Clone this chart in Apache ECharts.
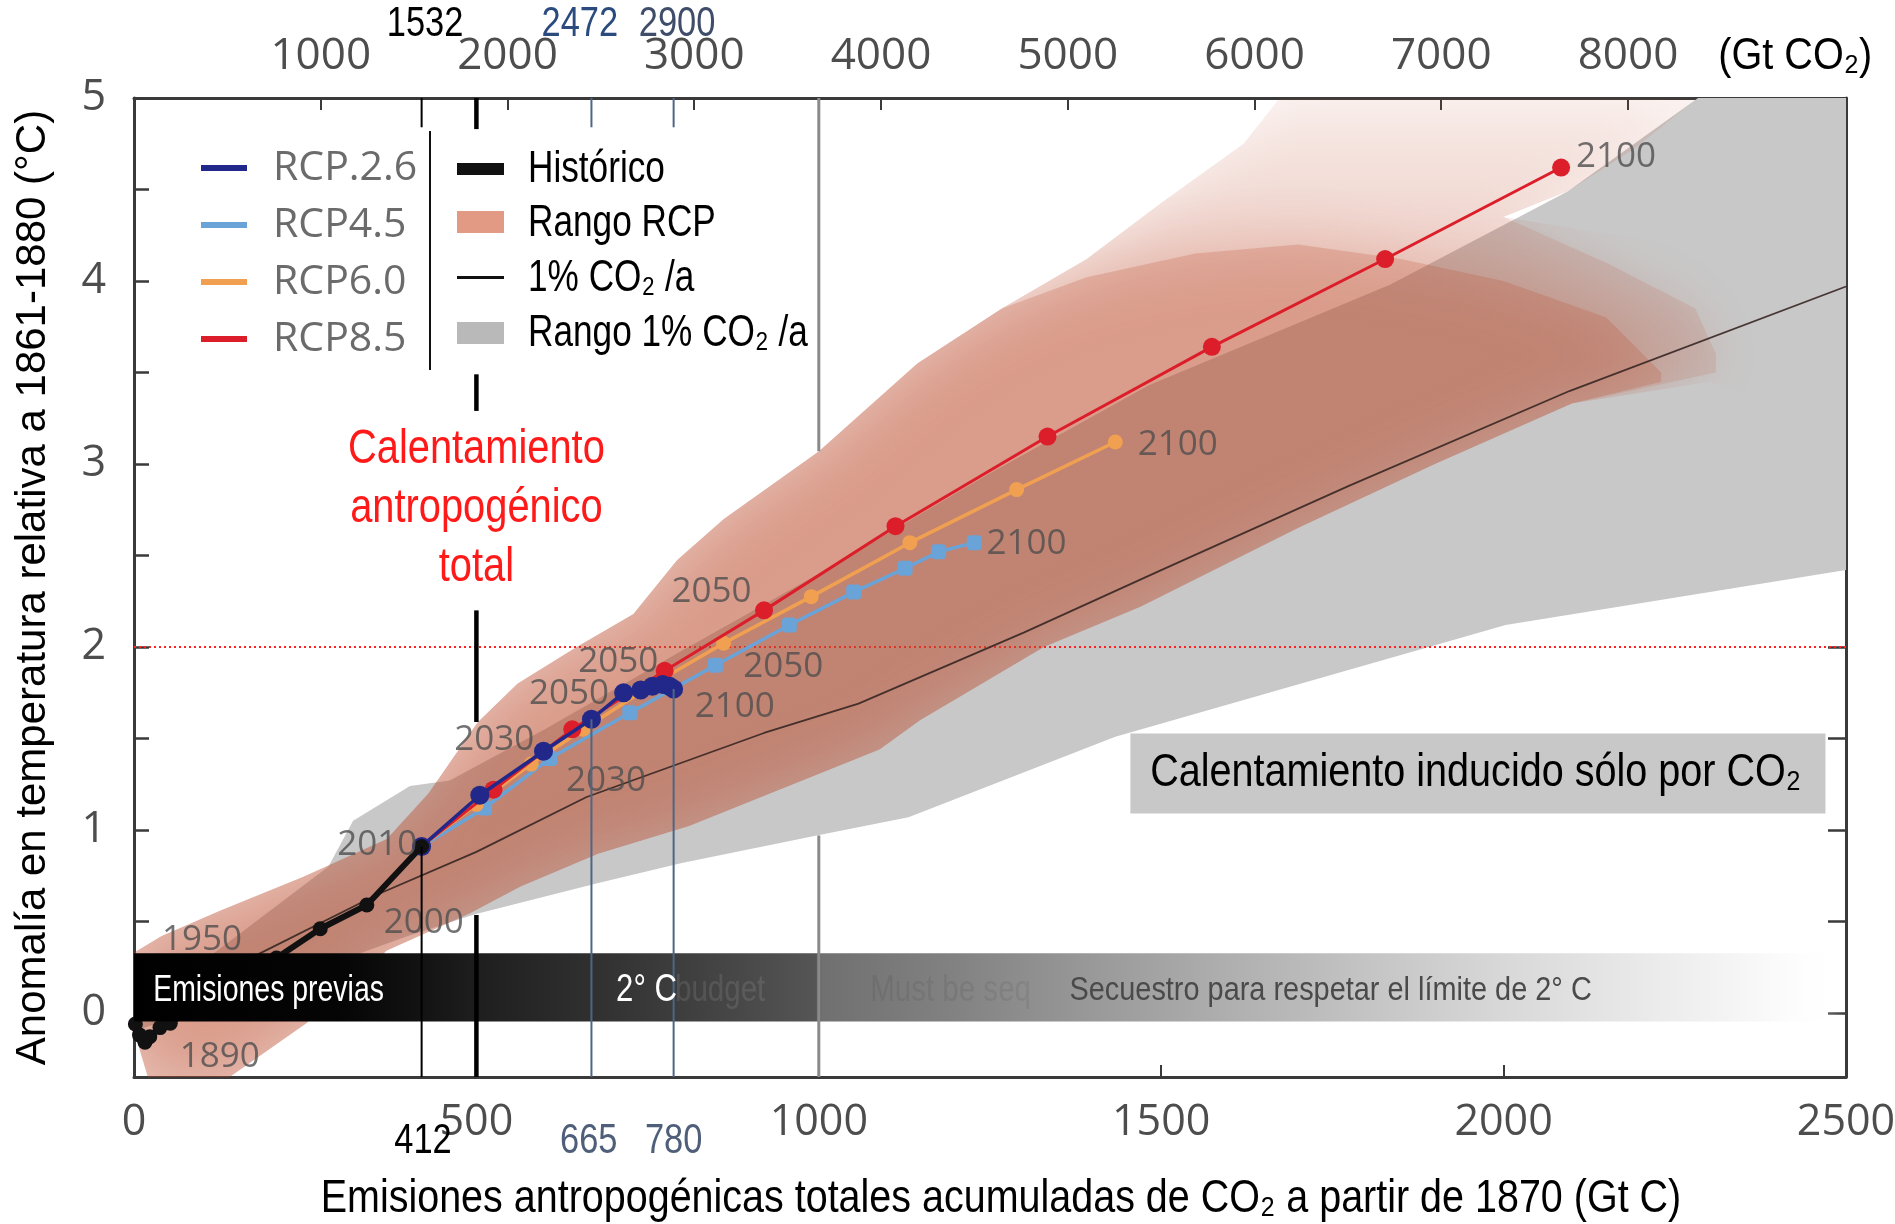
<!DOCTYPE html>
<html><head><meta charset="utf-8">
<script src="https://cdn.jsdelivr.net/npm/echarts@6/dist/echarts.min.js"></script>
<style>html,body{margin:0;padding:0;background:#fff}#chart{width:1895px;height:1224px}</style>
</head><body><div id="chart"></div>
<script>
// ---------------- DATA ----------------
// cumulative emissions (Gt C) , temperature anomaly (°C)
const historico = [[2,-0.06],[8,-0.12],[16,-0.16],[23,-0.13],[38,-0.08],[53,-0.056],[75,0.0],[100,0.08],[130,0.15],[165,0.22],[208,0.30],[272,0.46],[340,0.59],[420,0.91]];
const rcp26 = [[420,0.91],[505,1.19],[598,1.43],[668,1.605],[715,1.75],[740,1.765],[757,1.785],[772,1.795],[782,1.785],[788,1.77]];
const rcp45 = [[420,0.91],[512,1.12],[607,1.39],[724,1.64],[849,1.90],[957,2.12],[1051,2.30],[1126,2.43],[1175,2.52],[1227,2.57]];
const rcp60 = [[420,0.91],[500,1.14],[580,1.36],[656,1.55],[760,1.80],[861,2.02],[989,2.275],[1133,2.57],[1289,2.86],[1433,3.12]];
const rcp85 = [[420,0.91],[525,1.22],[640,1.55],[775,1.87],[920,2.20],[1112,2.66],[1334,3.15],[1574,3.64],[1827,4.12],[2084,4.62]];
const co2Line = [[0,0.0],[165,0.29],[357,0.65],[500,0.88],[661,1.18],[920,1.53],[1058,1.69],[1300,2.08],[1500,2.42],[1774,2.88],[2097,3.40],[2500,3.97]];

// RCP range: shared left part of the edges, a pale outer envelope and a denser core where plumes overlap
const rcpUpperLeft = [[0,-0.1],[0,0.33],[40,0.42],[126,0.56],[247,0.745],[369,0.95],[430,1.2],[502,1.59],[560,1.8],[646,2.0],[729,2.18],[793,2.475],[861,2.70],[1000,3.07]];
const rcpLowerLeft = [[20,-0.35],[140,-0.35],[252,-0.056],[369,0.34],[491,0.545],[564,0.69],[678,0.87],[810,1.02],[1089,1.44],[1148,1.60],[1329,2.0],[1470,2.22],[1700,2.65],[1900,3.0],[2100,3.33]];
const rcpOuterUpperRight = [[1144,3.55],[1267,3.85],[1391,4.12],[1497,4.42],[1620,4.75],[1673,5.0],[2284,5.0],[2190,4.72],[2094,4.49],[2000,4.35],[2150,4.1],[2280,3.85],[2310,3.6]];
const rcpOuterLowerEnd = [[2310,3.5]];
const rcpCoreUpperRight = [[1144,3.55],[1267,3.85],[1391,4.02],[1550,4.15],[1700,4.2],[1850,4.12],[2000,4.0],[2150,3.8],[2230,3.5]];
const rcpCoreLowerEnd = [[2230,3.45]];
// envelope used to keep the soft edges inside the plume (open only towards the faded right end)
const rcpClipUpperRight = [[1144,3.55],[1267,3.85],[1391,4.12],[1497,4.42],[1620,4.75],[1673,5.0],[2284,5.0],[2190,4.72],[2094,4.49],[2000,4.35],[2250,4.2],[2480,3.9],[2480,3.2]];
const rcpClipLowerEnd = [[2300,3.45],[2480,3.2]];

const grayUpper = [[0,0.0],[150,0.42],[284,0.80],[320,1.05],[403,1.24],[461,1.27],[600,1.55],[800,1.98],[1000,2.4],[1250,2.95],[1482,3.43],[1834,3.98],[2094,4.49],[2284,5.0],[2500,5.0]];
const grayLower = [[0,-0.1],[200,0.15],[400,0.42],[498,0.54],[678,0.71],[800,0.82],[997,0.97],[1131,1.07],[1433,1.51],[2003,2.12],[2500,2.42]];
const limit2C = [[0,2],[2500,2]];
const previasBand = [[0,0.326],[2500,-0.047]];
const co2OnlyBox = [[1455,1.527],[2470,1.09]];

const xTicks = [0,500,1000,1500,2000,2500];
const yTicks = [0,1,2,3,4,5];
const yMinorTicks = [0,0.5,1,1.5,2,2.5,3,3.5,4,4.5,5];
const topTicks = [1000,2000,3000,4000,5000,6000,7000,8000];
const topTickMarks = [1000,2000,3000,4000,5000,6000,7000,8000,9000];
const GTC_TO_GTCO2 = 3.667;

// reference lines (x in Gt C) and their visible spans (°C)
const refX = [420, 500, 668, 788, 1000];
const refSpans = [
  [[5,4.84],[0.91,-0.35]],
  [[5,4.83],[3.49,3.29],[2.20,1.59],[0.535,-0.35]],
  [[5,4.84],[1.605,-0.35]],
  [[5,4.84],[1.77,-0.35]],
  [[5,3.07],[0.97,-0.35]]
];
const topRefLabelX = [425, 651, 793];
const bottomRefLabelX = [422, 664, 788];
const topRefLabels = ['1532','2472','2900'];
const bottomRefLabels = ['412','665','780'];

// year labels: anchor (left edge, middle) in data coords
const yearLabelAnchors = [[2105,4.68],[1465,3.106],[1244,2.564],[818,1.67],[784,2.30],[648,1.92],[576,1.745],[889,1.89],[467,1.49],[630,1.27],[296,0.92],[364,0.49],[40,0.40],[66,-0.24]];
const yearLabelTexts = ['2100','2100','2100','2100','2050','2050','2050','2050','2030','2030','2010','2000','1950','1890'];

// annotation anchors (data coords) and texts
const annoAnchors = [[500,2.754],[28,0.12],[704,0.12],[790,0.12],[1075,0.12],[1366,0.12],[1484,1.309]];
const annoTexts = ['Calentamiento\nantropogénico\ntotal','Emisiones previas','2° C','budget','Must be seq','Secuestro para respetar el límite de 2° C','Calentamiento inducido sólo por CO₂'];
const legendRightTexts = ['Histórico','Rango RCP','1% CO₂ /a','Rango 1% CO₂ /a'];
const xTitle = 'Emisiones antropogénicas totales acumuladas de CO₂ a partir de 1870 (Gt C)';
const yTitle = 'Anomalía en temperatura relativa a 1861-1880 (°C)';
const co2Unit = '(Gt CO₂)';

// ---------------- STYLE ----------------
const SANS = '"Open Sans", "Noto Sans", sans-serif';
const ARIAL = '"Liberation Sans", Arial, sans-serif';
const AX = '#3a3a3a';
const TICKTXT = '#4d4d4d';
const RCP_RGB = '190,75,45';

const refStyles = [
  {stroke:'#000', lineWidth:2},
  {stroke:'#000', lineWidth:4.5},
  {stroke:'#4e6585', lineWidth:2},
  {stroke:'#4e6585', lineWidth:2},
  {stroke:'#8a8a8a', lineWidth:3}
];
// narrow look: Liberation Sans compressed horizontally
const annoStyles = [
  {fs:48, sx:0.83, fill:'#ff1a1a', align:'center', lh:59},
  {fs:36, sx:0.79, fill:'#fff'},
  {fs:38, sx:0.82, fill:'#fff'},
  {fs:36, sx:0.82, fill:'rgba(255,255,255,0.10)'},
  {fs:36, sx:0.82, fill:'rgba(0,0,0,0.07)'},
  {fs:34, sx:0.85, fill:'#4a4a4a'},
  {fs:46, sx:0.86, fill:'#000'}
];

function ring(api, upper, lower) {
  return upper.map(p => api.coord(p)).concat(lower.slice().reverse().map(p => api.coord(p)));
}
function bandSeries(name, upper, lower, fill, z) {
  return {type:'custom', name, z, clip:true, silent:true, data:[[0,0]],
    renderItem:(params, api) => ({type:'polygon', shape:{points:ring(api, upper, lower)}, style:{fill:fill}, silent:true})};
}
// layer with soft edges, clipped to the plume envelope
function softBandSeries(name, clipUpper, clipLower, upper, lower, fill, blur, z) {
  return {type:'custom', name, z, clip:true, silent:true, data:[[0,0]],
    renderItem:(params, api) => ({
      type:'group', silent:true,
      clipPath:{type:'polygon', shape:{points:ring(api, clipUpper, clipLower)}},
      children:[{type:'polygon', shape:{points:ring(api, upper, lower)},
        style:{fill:fill, shadowBlur:blur, shadowColor:'rgba(' + RCP_RGB + ',1)'}}]
    })};
}

const barFill = new echarts.graphic.LinearGradient(0, 0, 1, 0, [
  {offset:0, color:'#000'},{offset:0.12, color:'#050505'},{offset:0.16, color:'#101010'},
  {offset:0.2, color:'#1e1e1e'},{offset:0.26, color:'#2e2e2e'},{offset:0.32, color:'#3e3e3e'},
  {offset:0.398, color:'#555'},{offset:0.402, color:'#707070'},{offset:0.48, color:'#828282'},
  {offset:0.56, color:'#999'},{offset:0.64, color:'#afafaf'},{offset:0.72, color:'#c4c4c4'},
  {offset:0.80, color:'#d8d8d8'},{offset:0.88, color:'#e9e9e9'},{offset:0.95, color:'#f8f8f8'},
  {offset:1, color:'rgba(255,255,255,0)'}
]);
const outerFill = new echarts.graphic.LinearGradient(0, 1, 0, 0, [
  {offset:0, color:'rgba(' + RCP_RGB + ',0.134)'},
  {offset:0.84, color:'rgba(' + RCP_RGB + ',0.134)'},
  {offset:1, color:'rgba(' + RCP_RGB + ',0.06)'}
]);

function rcpSeries(name, data, color, size, symbol, z, width) {
  return {type:'line', name, data, z, symbol, symbolSize:size, showSymbol:true,
    lineStyle:{color, width:width}, itemStyle:{color}, color, silent:true};
}

const refData = [];
refX.forEach((x, i) => refSpans[i].forEach(s => refData.push([x, s[0], s[1], i])));

const outerUpper = rcpUpperLeft.concat(rcpOuterUpperRight), outerLower = rcpLowerLeft.concat(rcpOuterLowerEnd);
const coreUpper = rcpUpperLeft.concat(rcpCoreUpperRight), coreLower = rcpLowerLeft.concat(rcpCoreLowerEnd);
const clipUpper = rcpUpperLeft.concat(rcpClipUpperRight), clipLower = rcpLowerLeft.concat(rcpClipLowerEnd);

const option = {
  animation:false,
  backgroundColor:'#fff',
  grid:{left:134, right:49, top:98, bottom:147, containLabel:false, outerBoundsMode:'none'},
  xAxis:[
    {type:'value', position:'bottom', min:0, max:2500,
      axisLine:{show:true, onZero:false, lineStyle:{color:AX, width:3}},
      axisTick:{show:true, inside:true, length:12, lineStyle:{color:AX, width:2}, customValues:xTicks},
      axisLabel:{customValues:xTicks, margin:24, fontFamily:SANS, fontSize:43, color:TICKTXT, hideOverlap:false, formatter:v => String(v)},
      splitLine:{show:false}},
    {type:'value', position:'top', min:0, max:2500*GTC_TO_GTCO2,
      axisLine:{show:true, onZero:false, lineStyle:{color:AX, width:3}},
      axisTick:{show:true, inside:true, length:12, lineStyle:{color:AX, width:2}, customValues:topTickMarks},
      axisLabel:{customValues:topTicks, margin:20, fontFamily:SANS, fontSize:44, color:TICKTXT, hideOverlap:false, formatter:v => String(v)},
      splitLine:{show:false}}
  ],
  yAxis:[
    {type:'value', position:'left', min:-0.35, max:5,
      axisLine:{show:true, onZero:false, lineStyle:{color:AX, width:3}},
      axisTick:{show:true, inside:true, length:15, lineStyle:{color:AX, width:2.5}, customValues:yMinorTicks},
      axisLabel:{customValues:yTicks, margin:28, fontFamily:SANS, fontSize:43, color:TICKTXT, hideOverlap:false, formatter:v => String(v)},
      splitLine:{show:false},
      name:yTitle, nameLocation:'middle', nameGap:80, nameRotate:90,
      nameTextStyle:{fontFamily:ARIAL, fontSize:42, color:'#000'}},
    {type:'value', position:'right', min:-0.35, max:5,
      axisLine:{show:true, onZero:false, lineStyle:{color:AX, width:3}},
      axisTick:{show:true, inside:true, length:18, lineStyle:{color:AX, width:2.5}, customValues:yMinorTicks},
      axisLabel:{show:false}, splitLine:{show:false}}
  ],
  legend:[{
    data:['RCP.2.6','RCP4.5','RCP6.0','RCP8.5'], orient:'vertical', left:196, top:141,
    itemWidth:46, itemHeight:6, itemGap:13, icon:'rect', selectedMode:false,
    textStyle:{fontFamily:SANS, fontSize:41, color:'#6b6b6b', lineHeight:44, padding:[0,0,0,21]}
  }],
  series:[
    bandSeries('Rango 1% CO₂ /a', grayUpper, grayLower, '#c8c8c8', 1),
    {type:'line', name:'Límite 2 °C', data:limit2C, z:2, symbol:'none', silent:true,
      lineStyle:{color:'#ff2020', width:2, type:[2,3]}},
    softBandSeries('Rango RCP', clipUpper, clipLower, outerUpper, outerLower, outerFill, 50, 3),
    softBandSeries('Rango RCP (núcleo)', clipUpper, clipLower, coreUpper, coreLower, 'rgba(' + RCP_RGB + ',0.225)', 60, 3),
    {type:'line', name:'1% CO₂ /a', data:co2Line, z:4, symbol:'none', silent:true,
      lineStyle:{color:'rgba(55,38,34,0.9)', width:1.8}},
    rcpSeries('RCP4.5', rcp45, '#6aa3d8', 15, 'roundRect', 10, 3.5),
    rcpSeries('RCP6.0', rcp60, '#f0a050', 15, 'circle', 11, 3.5),
    rcpSeries('RCP8.5', rcp85, '#dc1e2a', 18, 'circle', 12, 3),
    rcpSeries('RCP.2.6', rcp26, '#22288a', 19, 'circle', 13, 3.5),
    {type:'line', name:'Histórico', data:historico, z:14, symbol:'circle', symbolSize:15, silent:true,
      lineStyle:{color:'#111', width:6}, itemStyle:{color:'#111'}},
    {type:'scatter', name:'años', z:15, silent:true, symbolSize:1, itemStyle:{color:'rgba(0,0,0,0)'},
      data:yearLabelAnchors.map((p, i) => ({value:p, label:{show:true, formatter:yearLabelTexts[i]}})),
      label:{show:true, position:'right', distance:0, fontFamily:SANS, fontSize:35, color:'#4d4d4d'}},
    {type:'custom', name:'Emisiones previas', z:20, clip:true, silent:true, data:[[0,0]],
      renderItem:function (params, api) {
        const a = api.coord(previasBand[0]), b = api.coord(previasBand[1]);
        return {type:'rect', shape:{x:a[0], y:a[1], width:b[0]-a[0], height:b[1]-a[1]}, style:{fill:barFill}};
      }},
    {type:'custom', name:'referencias', z:21, clip:false, silent:true, data:refData,
      encode:{x:0, y:[1,2]},
      renderItem:function (params, api) {
        const x = api.value(0), i = api.value(3);
        const p1 = api.coord([x, api.value(1)]), p2 = api.coord([x, api.value(2)]);
        return {type:'line', shape:{x1:p1[0], y1:p1[1], x2:p2[0], y2:p2[1]}, style:refStyles[i]};
      }}
  ]
};

const chart = echarts.init(document.getElementById('chart'), null, {renderer:'canvas', width:1895, height:1224});
chart.setOption(option);

// ------------- narrow texts & annotations placed through the axes -------------
const toPx = p => chart.convertToPixel({xAxisIndex:0, yAxisIndex:0}, p);
const g = [];
function ntext(x, y, text, o) {
  g.push({type:'text', x:x, y:y, scaleX:o.sx, z:100, silent:true,
    style:{text:text, fontFamily:ARIAL, fontSize:o.fs, fill:o.fill, align:o.align || 'left', verticalAlign:'middle', lineHeight:o.lh}});
}
// grey box behind "Calentamiento inducido sólo por CO₂"
const bA = toPx(co2OnlyBox[0]), bB = toPx(co2OnlyBox[1]);
g.push({type:'rect', z:99, silent:true, shape:{x:bA[0], y:bA[1], width:bB[0]-bA[0], height:bB[1]-bA[1]}, style:{fill:'#c8c8c8'}});
annoAnchors.forEach((p, i) => { const q = toPx(p); ntext(q[0], q[1], annoTexts[i], annoStyles[i]); });

// axis title (bottom) and the CO2 unit on the top axis
const plotBottom = toPx([0,-0.35])[1], plotTop = toPx([0,5])[1];
ntext(toPx([1266,0])[0], plotBottom + 122, xTitle, {fs:47, sx:0.84, fill:'#000', align:'center'});
ntext(toPx([2426,0])[0], plotTop - 41, co2Unit, {fs:44, sx:0.9, fill:'#000', align:'center'});
// labels of the reference lines
const topRefColors = ['#000','#2b4b7e','#3f4d6b'];
const botRefColors = ['#000','#4f5f7a','#4f5f7a'];
topRefLabels.forEach((t, i) => ntext(toPx([topRefLabelX[i],0])[0], plotTop - 74, t, {fs:42, sx:0.82, fill:topRefColors[i], align:'center'}));
bottomRefLabels.forEach((t, i) => ntext(toPx([bottomRefLabelX[i],0])[0], plotBottom + 64, t, {fs:42, sx:0.82, fill:botRefColors[i], align:'center'}));
// right legend column
g.push({type:'line', z:100, silent:true, shape:{x1:430, y1:131, x2:430, y2:370}, style:{stroke:'#111', lineWidth:2}});
g.push({type:'rect', z:100, silent:true, shape:{x:457, y:163, width:47, height:12}, style:{fill:'#111'}});
g.push({type:'rect', z:100, silent:true, shape:{x:457, y:211, width:47, height:22}, style:{fill:'#e39a84'}});
g.push({type:'rect', z:100, silent:true, shape:{x:457, y:276, width:47, height:3}, style:{fill:'#111'}});
g.push({type:'rect', z:100, silent:true, shape:{x:457, y:322, width:47, height:22}, style:{fill:'#b9b9b9'}});
[170, 224, 279, 334].forEach((y, i) => ntext(528, y, legendRightTexts[i], {fs:44, sx:0.8, fill:'#000'}));

chart.setOption({graphic:g});
</script></body></html>
